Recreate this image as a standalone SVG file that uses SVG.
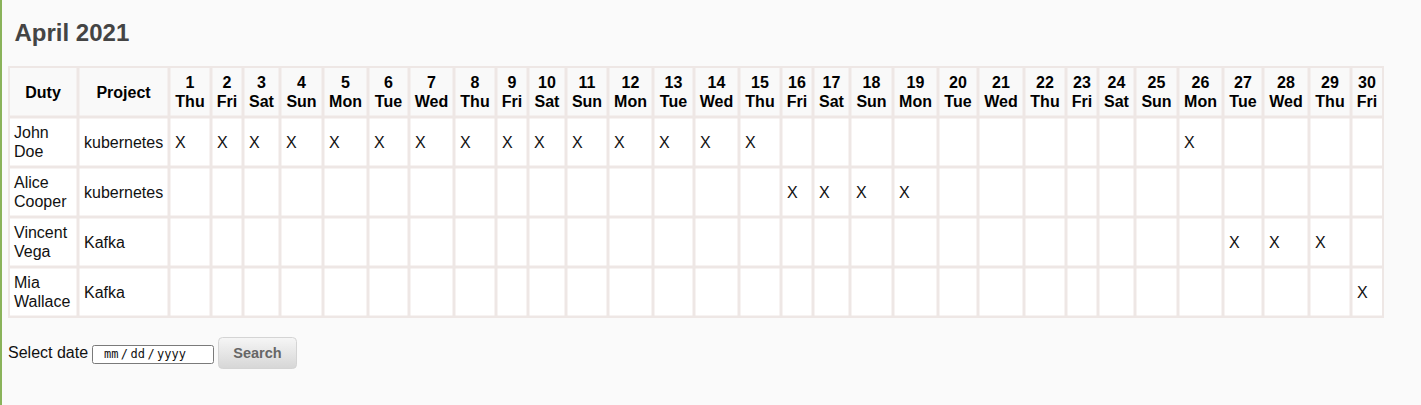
<svg xmlns="http://www.w3.org/2000/svg" width="1421" height="405" viewBox="0 0 1421 405">
<defs>
<linearGradient id="btn" x1="0" y1="0" x2="0" y2="1">
<stop offset="0" stop-color="#f6f6f6"/>
<stop offset="1" stop-color="#d6d6d6"/>
</linearGradient>
</defs>
<style>
.h{font-family:"Liberation Sans",Arial,sans-serif;font-size:16px;font-weight:bold;fill:#000;text-anchor:middle}
.b{font-family:"Liberation Sans",Arial,sans-serif;font-size:16px;fill:#111}
.hc{fill:#f9f9f9}
.bc{fill:#ffffff}
</style>
<rect width="1421" height="405" fill="#fafafa"/>
<rect x="0" y="0" width="2" height="405" fill="#8ab35a"/>
<text x="14.5" y="41" font-family="Liberation Sans,Arial,sans-serif" font-size="24" font-weight="bold" fill="#444">April 2021</text>
<g id="table">
<rect x="8" y="66" width="1376" height="252" fill="#eee7e5"/>
<g id="cells">
<rect class="hc" x="10" y="68" width="66.5" height="47.5"/><rect class="hc" x="79.5" y="68" width="88" height="47.5"/><rect class="hc" x="170.5" y="68" width="39" height="47.5"/><rect class="hc" x="212.5" y="68" width="29" height="47.5"/><rect class="hc" x="244.5" y="68" width="34" height="47.5"/><rect class="hc" x="281.5" y="68" width="40" height="47.5"/><rect class="hc" x="324.5" y="68" width="42" height="47.5"/><rect class="hc" x="369.5" y="68" width="38" height="47.5"/><rect class="hc" x="410.5" y="68" width="42" height="47.5"/><rect class="hc" x="455.5" y="68" width="39" height="47.5"/><rect class="hc" x="497.5" y="68" width="29" height="47.5"/><rect class="hc" x="529.5" y="68" width="35" height="47.5"/><rect class="hc" x="567.5" y="68" width="39" height="47.5"/><rect class="hc" x="609.5" y="68" width="42" height="47.5"/><rect class="hc" x="654.5" y="68" width="38" height="47.5"/><rect class="hc" x="695.5" y="68" width="42" height="47.5"/><rect class="hc" x="740.5" y="68" width="39" height="47.5"/><rect class="hc" x="782.5" y="68" width="29" height="47.5"/><rect class="hc" x="814.5" y="68" width="34" height="47.5"/><rect class="hc" x="851.5" y="68" width="40" height="47.5"/><rect class="hc" x="894.5" y="68" width="42" height="47.5"/><rect class="hc" x="939.5" y="68" width="37" height="47.5"/><rect class="hc" x="979.5" y="68" width="43" height="47.5"/><rect class="hc" x="1025.5" y="68" width="39" height="47.5"/><rect class="hc" x="1067.5" y="68" width="29" height="47.5"/><rect class="hc" x="1099.5" y="68" width="34" height="47.5"/><rect class="hc" x="1136.5" y="68" width="40" height="47.5"/><rect class="hc" x="1179.5" y="68" width="42" height="47.5"/><rect class="hc" x="1224.5" y="68" width="37" height="47.5"/><rect class="hc" x="1264.5" y="68" width="43" height="47.5"/><rect class="hc" x="1310.5" y="68" width="39" height="47.5"/><rect class="hc" x="1352.5" y="68" width="29.5" height="47.5"/>
</g>
<g id="body-cells" fill="#fff">
<path d="M10 118.5h66.5v47h-66.5zM79.5 118.5h88v47h-88zM170.5 118.5h39v47h-39zM212.5 118.5h29v47h-29zM244.5 118.5h34v47h-34zM281.5 118.5h40v47h-40zM324.5 118.5h42v47h-42zM369.5 118.5h38v47h-38zM410.5 118.5h42v47h-42zM455.5 118.5h39v47h-39zM497.5 118.5h29v47h-29zM529.5 118.5h35v47h-35zM567.5 118.5h39v47h-39zM609.5 118.5h42v47h-42zM654.5 118.5h38v47h-38zM695.5 118.5h42v47h-42zM740.5 118.5h39v47h-39zM782.5 118.5h29v47h-29zM814.5 118.5h34v47h-34zM851.5 118.5h40v47h-40zM894.5 118.5h42v47h-42zM939.5 118.5h37v47h-37zM979.5 118.5h43v47h-43zM1025.5 118.5h39v47h-39zM1067.5 118.5h29v47h-29zM1099.5 118.5h34v47h-34zM1136.5 118.5h40v47h-40zM1179.5 118.5h42v47h-42zM1224.5 118.5h37v47h-37zM1264.5 118.5h43v47h-43zM1310.5 118.5h39v47h-39zM1352.5 118.5h29.5v47h-29.5z"/>
<path transform="translate(0,50)" d="M10 118.5h66.5v47h-66.5zM79.5 118.5h88v47h-88zM170.5 118.5h39v47h-39zM212.5 118.5h29v47h-29zM244.5 118.5h34v47h-34zM281.5 118.5h40v47h-40zM324.5 118.5h42v47h-42zM369.5 118.5h38v47h-38zM410.5 118.5h42v47h-42zM455.5 118.5h39v47h-39zM497.5 118.5h29v47h-29zM529.5 118.5h35v47h-35zM567.5 118.5h39v47h-39zM609.5 118.5h42v47h-42zM654.5 118.5h38v47h-38zM695.5 118.5h42v47h-42zM740.5 118.5h39v47h-39zM782.5 118.5h29v47h-29zM814.5 118.5h34v47h-34zM851.5 118.5h40v47h-40zM894.5 118.5h42v47h-42zM939.5 118.5h37v47h-37zM979.5 118.5h43v47h-43zM1025.5 118.5h39v47h-39zM1067.5 118.5h29v47h-29zM1099.5 118.5h34v47h-34zM1136.5 118.5h40v47h-40zM1179.5 118.5h42v47h-42zM1224.5 118.5h37v47h-37zM1264.5 118.5h43v47h-43zM1310.5 118.5h39v47h-39zM1352.5 118.5h29.5v47h-29.5z"/>
<path transform="translate(0,100)" d="M10 118.5h66.5v47h-66.5zM79.5 118.5h88v47h-88zM170.5 118.5h39v47h-39zM212.5 118.5h29v47h-29zM244.5 118.5h34v47h-34zM281.5 118.5h40v47h-40zM324.5 118.5h42v47h-42zM369.5 118.5h38v47h-38zM410.5 118.5h42v47h-42zM455.5 118.5h39v47h-39zM497.5 118.5h29v47h-29zM529.5 118.5h35v47h-35zM567.5 118.5h39v47h-39zM609.5 118.5h42v47h-42zM654.5 118.5h38v47h-38zM695.5 118.5h42v47h-42zM740.5 118.5h39v47h-39zM782.5 118.5h29v47h-29zM814.5 118.5h34v47h-34zM851.5 118.5h40v47h-40zM894.5 118.5h42v47h-42zM939.5 118.5h37v47h-37zM979.5 118.5h43v47h-43zM1025.5 118.5h39v47h-39zM1067.5 118.5h29v47h-29zM1099.5 118.5h34v47h-34zM1136.5 118.5h40v47h-40zM1179.5 118.5h42v47h-42zM1224.5 118.5h37v47h-37zM1264.5 118.5h43v47h-43zM1310.5 118.5h39v47h-39zM1352.5 118.5h29.5v47h-29.5z"/>
<path transform="translate(0,150)" d="M10 118.5h66.5v47h-66.5zM79.5 118.5h88v47h-88zM170.5 118.5h39v47h-39zM212.5 118.5h29v47h-29zM244.5 118.5h34v47h-34zM281.5 118.5h40v47h-40zM324.5 118.5h42v47h-42zM369.5 118.5h38v47h-38zM410.5 118.5h42v47h-42zM455.5 118.5h39v47h-39zM497.5 118.5h29v47h-29zM529.5 118.5h35v47h-35zM567.5 118.5h39v47h-39zM609.5 118.5h42v47h-42zM654.5 118.5h38v47h-38zM695.5 118.5h42v47h-42zM740.5 118.5h39v47h-39zM782.5 118.5h29v47h-29zM814.5 118.5h34v47h-34zM851.5 118.5h40v47h-40zM894.5 118.5h42v47h-42zM939.5 118.5h37v47h-37zM979.5 118.5h43v47h-43zM1025.5 118.5h39v47h-39zM1067.5 118.5h29v47h-29zM1099.5 118.5h34v47h-34zM1136.5 118.5h40v47h-40zM1179.5 118.5h42v47h-42zM1224.5 118.5h37v47h-37zM1264.5 118.5h43v47h-43zM1310.5 118.5h39v47h-39zM1352.5 118.5h29.5v47h-29.5z"/>
</g>
<g id="header-text">
<text class="h" x="43" y="98">Duty</text>
<text class="h" x="123.5" y="98">Project</text>
<text class="h" x="190" y="88">1</text><text class="h" x="190" y="106.5">Thu</text>
<text class="h" x="227" y="88">2</text><text class="h" x="227" y="106.5">Fri</text>
<text class="h" x="261.5" y="88">3</text><text class="h" x="261.5" y="106.5">Sat</text>
<text class="h" x="301.5" y="88">4</text><text class="h" x="301.5" y="106.5">Sun</text>
<text class="h" x="345.5" y="88">5</text><text class="h" x="345.5" y="106.5">Mon</text>
<text class="h" x="388.5" y="88">6</text><text class="h" x="388.5" y="106.5">Tue</text>
<text class="h" x="431.5" y="88">7</text><text class="h" x="431.5" y="106.5">Wed</text>
<text class="h" x="475" y="88">8</text><text class="h" x="475" y="106.5">Thu</text>
<text class="h" x="512" y="88">9</text><text class="h" x="512" y="106.5">Fri</text>
<text class="h" x="547" y="88">10</text><text class="h" x="547" y="106.5">Sat</text>
<text class="h" x="587" y="88">11</text><text class="h" x="587" y="106.5">Sun</text>
<text class="h" x="630.5" y="88">12</text><text class="h" x="630.5" y="106.5">Mon</text>
<text class="h" x="673.5" y="88">13</text><text class="h" x="673.5" y="106.5">Tue</text>
<text class="h" x="716.5" y="88">14</text><text class="h" x="716.5" y="106.5">Wed</text>
<text class="h" x="760" y="88">15</text><text class="h" x="760" y="106.5">Thu</text>
<text class="h" x="797" y="88">16</text><text class="h" x="797" y="106.5">Fri</text>
<text class="h" x="831.5" y="88">17</text><text class="h" x="831.5" y="106.5">Sat</text>
<text class="h" x="871.5" y="88">18</text><text class="h" x="871.5" y="106.5">Sun</text>
<text class="h" x="915.5" y="88">19</text><text class="h" x="915.5" y="106.5">Mon</text>
<text class="h" x="958" y="88">20</text><text class="h" x="958" y="106.5">Tue</text>
<text class="h" x="1001" y="88">21</text><text class="h" x="1001" y="106.5">Wed</text>
<text class="h" x="1045" y="88">22</text><text class="h" x="1045" y="106.5">Thu</text>
<text class="h" x="1082" y="88">23</text><text class="h" x="1082" y="106.5">Fri</text>
<text class="h" x="1116.5" y="88">24</text><text class="h" x="1116.5" y="106.5">Sat</text>
<text class="h" x="1156.5" y="88">25</text><text class="h" x="1156.5" y="106.5">Sun</text>
<text class="h" x="1200.5" y="88">26</text><text class="h" x="1200.5" y="106.5">Mon</text>
<text class="h" x="1243" y="88">27</text><text class="h" x="1243" y="106.5">Tue</text>
<text class="h" x="1286" y="88">28</text><text class="h" x="1286" y="106.5">Wed</text>
<text class="h" x="1330" y="88">29</text><text class="h" x="1330" y="106.5">Thu</text>
<text class="h" x="1367" y="88">30</text><text class="h" x="1367" y="106.5">Fri</text>
</g>
<g id="row-john">
<text class="b" x="14" y="138.3">John</text><text class="b" x="14" y="156.8">Doe</text>
<text class="b" x="84" y="148.3">kubernetes</text>
<text class="b" x="175" y="148.3">X</text><text class="b" x="217" y="148.3">X</text><text class="b" x="249" y="148.3">X</text><text class="b" x="286" y="148.3">X</text><text class="b" x="329" y="148.3">X</text><text class="b" x="374" y="148.3">X</text><text class="b" x="415" y="148.3">X</text><text class="b" x="460" y="148.3">X</text><text class="b" x="502" y="148.3">X</text><text class="b" x="534" y="148.3">X</text><text class="b" x="572" y="148.3">X</text><text class="b" x="614" y="148.3">X</text><text class="b" x="659" y="148.3">X</text><text class="b" x="700" y="148.3">X</text><text class="b" x="745" y="148.3">X</text><text class="b" x="1184" y="148.3">X</text>
</g>
<g id="row-alice">
<text class="b" x="14" y="188.3">Alice</text><text class="b" x="14" y="206.8">Cooper</text>
<text class="b" x="84" y="198.3">kubernetes</text>
<text class="b" x="787" y="198.3">X</text><text class="b" x="819" y="198.3">X</text><text class="b" x="856" y="198.3">X</text><text class="b" x="899" y="198.3">X</text>
</g>
<g id="row-vincent">
<text class="b" x="14" y="238.3">Vincent</text><text class="b" x="14" y="256.8">Vega</text>
<text class="b" x="84" y="248.3">Kafka</text>
<text class="b" x="1229" y="248.3">X</text><text class="b" x="1269" y="248.3">X</text><text class="b" x="1315" y="248.3">X</text>
</g>
<g id="row-mia">
<text class="b" x="14" y="288.3">Mia</text><text class="b" x="14" y="306.8">Wallace</text>
<text class="b" x="84" y="298.3">Kafka</text>
<text class="b" x="1357" y="298.3">X</text>
</g>
</g>
<g id="form">
<text class="b" x="8" y="358.3" fill="#222">Select date</text>
<rect x="92.5" y="345.5" width="121" height="18" rx="2" fill="#fff" stroke="#7a7a7a" stroke-width="1"/>
<text x="104" y="358.3" font-family="DejaVu Sans Mono,Liberation Mono,monospace" font-size="12" word-spacing="-4.8" fill="#111">mm / dd / yyyy</text>
<rect x="218.5" y="337.5" width="78" height="31" rx="4" fill="url(#btn)" stroke="#d4d4d4"/>
<text x="257.5" y="358.3" font-family="Liberation Sans,Arial,sans-serif" font-size="14.5" font-weight="bold" fill="#666" text-anchor="middle">Search</text>
</g>
</svg>
